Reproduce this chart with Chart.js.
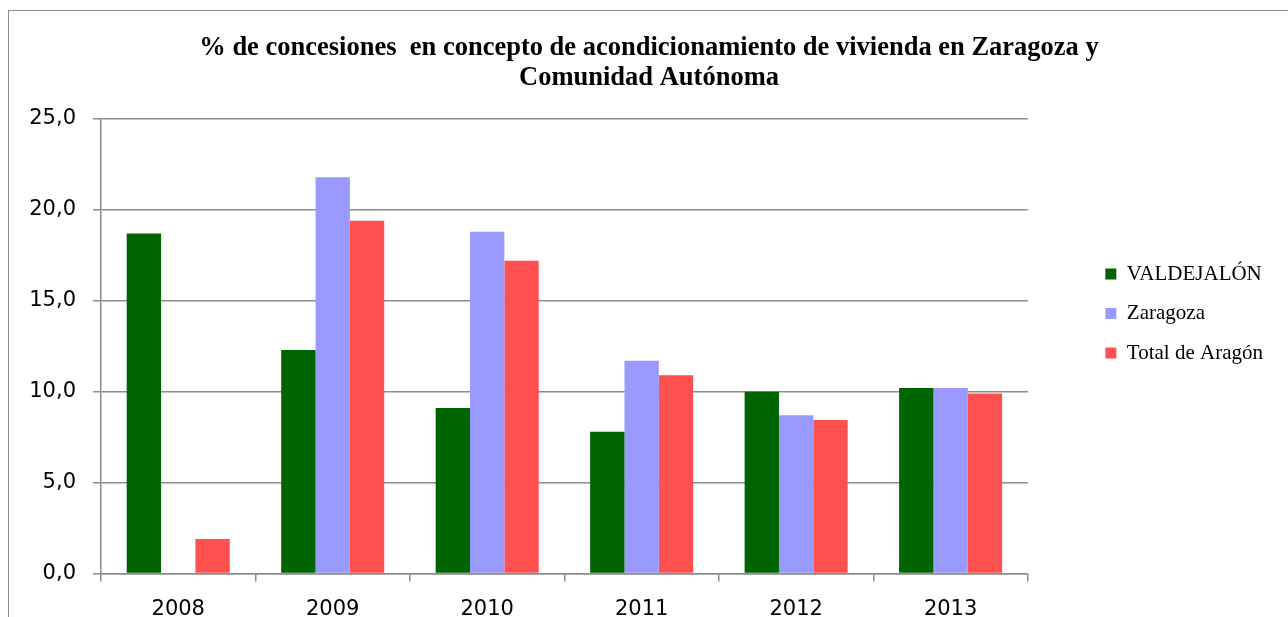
<!DOCTYPE html>
<html>
<head>
<meta charset="utf-8">
<script src="https://cdn.jsdelivr.net/npm/chart.js@4.4.1/dist/chart.umd.min.js"></script>
<style>
    html, body { margin: 0; padding: 0; background: #fff; overflow: hidden; }
    #wrap { position: relative; width: 1288px; height: 617px; }
    #frame {
        position: absolute; left: 8px; top: 10px; width: 1400px; height: 700px;
        border: 1.5px solid #8c8c8c; pointer-events: none;
    }
    canvas { position: absolute; left: 0; top: 0; }
</style>
</head>
<body>
<div id="wrap">
    <div id="frame"></div>
    <canvas id="barChart" width="1288" height="617"></canvas>
</div>
<script>
const years = ['2008', '2009', '2010', '2011', '2012', '2013']
const valdejalon = [18.7, 12.3, 9.1, 7.8, 10.0, 10.2]
const zaragoza = [null, 21.8, 18.8, 11.7, 8.7, 10.2]
const totalAragon = [1.9, 19.4, 17.2, 10.9, 8.45, 9.9]
const titleLines = [
    '% de concesiones  en concepto de acondicionamiento de vivienda en Zaragoza y',
    'Comunidad Autónoma',
]

const gridGray = '#8c8c8c'
const tickFont = { family: 'DejaVu Sans', size: 21 }

const ctx = document.getElementById('barChart')

new Chart(ctx, {
    type: 'bar',
    data: {
        labels: years,
        datasets: [
            { label: 'VALDEJALÓN', data: valdejalon, backgroundColor: '#006400' },
            { label: 'Zaragoza', data: zaragoza, backgroundColor: '#9999ff' },
            { label: 'Total de Aragón', data: totalAragon, backgroundColor: '#ff5050' },
        ],
    },
    options: {
        responsive: false,
        animation: false,
        layout: { padding: { left: 25, right: 15, top: 10, bottom: 0 } },
        datasets: {
            bar: { categoryPercentage: 0.667, barPercentage: 1.0 },
        },
        plugins: {
            tooltip: { enabled: false },
            title: {
                display: true,
                text: titleLines,
                color: '#000',
                font: { family: 'Liberation Serif', size: 26.5, weight: 'bold', lineHeight: 1.132 },
                padding: { top: 23, bottom: 26 },
            },
            legend: {
                position: 'right',
                align: 'center',
                labels: {
                    color: '#000',
                    font: { family: 'Liberation Serif', size: 21 },
                    boxWidth: 11,
                    boxHeight: 11,
                    padding: 18.5,
                },
            },
        },
        scales: {
            x: {
                grid: {
                    offset: true,
                    drawOnChartArea: false,
                    color: gridGray,
                    lineWidth: 1.5,
                    tickLength: 8,
                },
                border: { color: gridGray, width: 1.5 },
                ticks: { color: '#000', font: tickFont, padding: 15 },
                afterFit: (scale) => { scale.height = 43.5 },
            },
            y: {
                min: 0,
                max: 25,
                ticks: {
                    stepSize: 5,
                    color: '#000',
                    font: tickFont,
                    padding: 17,
                    callback: (v) => v.toFixed(1).replace('.', ','),
                },
                grid: { color: gridGray, lineWidth: 1.5, tickLength: 8 },
                border: { color: gridGray, width: 1.5 },
                afterFit: (scale) => { scale.width = 76 },
            },
            // empty axis used only as a gap between the plot and the legend
            gap: {
                type: 'linear',
                position: 'right',
                grid: { display: false, drawTicks: false },
                ticks: { display: false },
                border: { display: false },
                afterFit: (scale) => { scale.width = 59 },
            },
        },
    },
})
</script>
</body>
</html>
